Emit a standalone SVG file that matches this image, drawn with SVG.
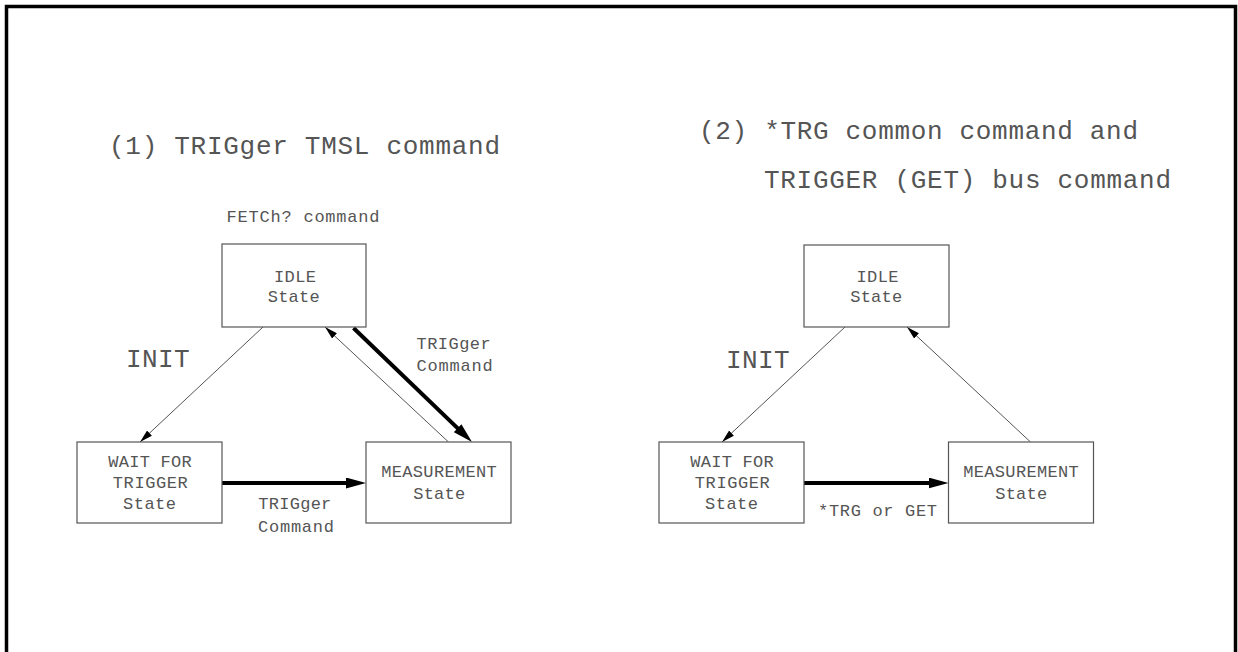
<svg xmlns="http://www.w3.org/2000/svg" width="1238" height="652" viewBox="0 0 1238 652">
<style>
.t{font-family:"Liberation Mono","DejaVu Sans Mono",monospace;fill:#555}
.big{font-size:26px}
.sm{font-size:17px}
.box{fill:#fff;stroke:#555;stroke-width:1.2}
.thin{stroke:#555;stroke-width:1;fill:none}
.thick{stroke:#000;stroke-width:4;fill:none}
</style>
<defs>
<marker id="ah" markerUnits="userSpaceOnUse" markerWidth="13" markerHeight="8" refX="13" refY="4" orient="auto">
<path d="M0,0.5 L13,4 L0,7.5 z" fill="#000"/>
</marker>
<marker id="ahk" markerUnits="userSpaceOnUse" markerWidth="20" markerHeight="11" refX="10" refY="5.5" orient="auto">
<path d="M0,0 L20,5.5 L0,11 z" fill="#000"/>
</marker>
</defs>
<rect width="1238" height="652" fill="#fff"/>
<rect x="6.5" y="6.5" width="1229" height="700" fill="none" stroke="#000" stroke-width="3.5"/>

<g id="titles">
<text class="t big" x="109" y="153.5" textLength="391" lengthAdjust="spacing">(1) TRIGger TMSL command</text>
<text class="t big" x="699" y="138.5" textLength="439" lengthAdjust="spacing">(2) *TRG common command and</text>
<text class="t big" x="764" y="187.5" textLength="407" lengthAdjust="spacing">TRIGGER (GET) bus command</text>
</g>

<g id="connectors">
<line class="thin" x1="263" y1="327" x2="140" y2="442" marker-end="url(#ah)"/>
<line class="thin" x1="448.5" y1="442" x2="325" y2="327" marker-end="url(#ah)"/>
<line class="thick" x1="353.5" y1="328" x2="464.8" y2="435.1" marker-end="url(#ahk)"/>
<line class="thick" x1="222" y1="483" x2="356" y2="483" marker-end="url(#ahk)"/>
<line class="thin" x1="845" y1="327" x2="722" y2="442" marker-end="url(#ah)"/>
<line class="thin" x1="1030.5" y1="442" x2="907" y2="327" marker-end="url(#ah)"/>
<line class="thick" x1="804" y1="483" x2="938.5" y2="483" marker-end="url(#ahk)"/>
</g>

<g id="labels">
<text class="t sm" x="226.5" y="221.5" textLength="153" lengthAdjust="spacing">FETCh? command</text>
<text class="t big" x="126" y="366.5" textLength="63.5" lengthAdjust="spacing">INIT</text>
<text class="t big" x="726" y="367.5" textLength="63.5" lengthAdjust="spacing">INIT</text>
<text class="t sm" x="416.6" y="348.5" textLength="74" lengthAdjust="spacing">TRIGger</text>
<text class="t sm" x="416.6" y="370.5" textLength="76" lengthAdjust="spacing">Command</text>
<text class="t sm" x="258.3" y="509" textLength="73" lengthAdjust="spacing">TRIGger</text>
<text class="t sm" x="258" y="532" textLength="76" lengthAdjust="spacing">Command</text>
<text class="t sm" x="818" y="516" textLength="119" lengthAdjust="spacing">*TRG or GET</text>
</g>

<g id="idle1">
<rect class="box" x="222" y="244" width="144" height="83"/>
<text class="t sm" x="295" y="282" text-anchor="middle" textLength="42" lengthAdjust="spacing">IDLE</text>
<text class="t sm" x="293.7" y="302" text-anchor="middle" textLength="52" lengthAdjust="spacing">State</text>
</g>
<g id="wait1">
<rect class="box" x="77" y="442" width="145" height="81"/>
<text class="t sm" x="150" y="467" text-anchor="middle" textLength="83.5" lengthAdjust="spacing">WAIT FOR</text>
<text class="t sm" x="150.3" y="488" text-anchor="middle" textLength="75" lengthAdjust="spacing">TRIGGER</text>
<text class="t sm" x="149.5" y="509" text-anchor="middle" textLength="53" lengthAdjust="spacing">State</text>
</g>
<g id="meas1">
<rect class="box" x="366" y="442" width="145" height="81"/>
<text class="t sm" x="439" y="477" text-anchor="middle" textLength="115.5" lengthAdjust="spacing">MEASUREMENT</text>
<text class="t sm" x="439.2" y="499" text-anchor="middle" textLength="52" lengthAdjust="spacing">State</text>
</g>

<g id="idle2">
<rect class="box" x="804" y="245" width="145" height="82"/>
<text class="t sm" x="877.5" y="282" text-anchor="middle" textLength="42" lengthAdjust="spacing">IDLE</text>
<text class="t sm" x="876.2" y="302" text-anchor="middle" textLength="52" lengthAdjust="spacing">State</text>
</g>
<g id="wait2">
<rect class="box" x="659" y="442" width="145" height="81"/>
<text class="t sm" x="732" y="467" text-anchor="middle" textLength="83.5" lengthAdjust="spacing">WAIT FOR</text>
<text class="t sm" x="732.3" y="488" text-anchor="middle" textLength="75" lengthAdjust="spacing">TRIGGER</text>
<text class="t sm" x="731.5" y="509" text-anchor="middle" textLength="53" lengthAdjust="spacing">State</text>
</g>
<g id="meas2">
<rect class="box" x="948.5" y="442" width="145" height="81"/>
<text class="t sm" x="1021" y="477" text-anchor="middle" textLength="115.5" lengthAdjust="spacing">MEASUREMENT</text>
<text class="t sm" x="1021.2" y="499" text-anchor="middle" textLength="52" lengthAdjust="spacing">State</text>
</g>
</svg>
